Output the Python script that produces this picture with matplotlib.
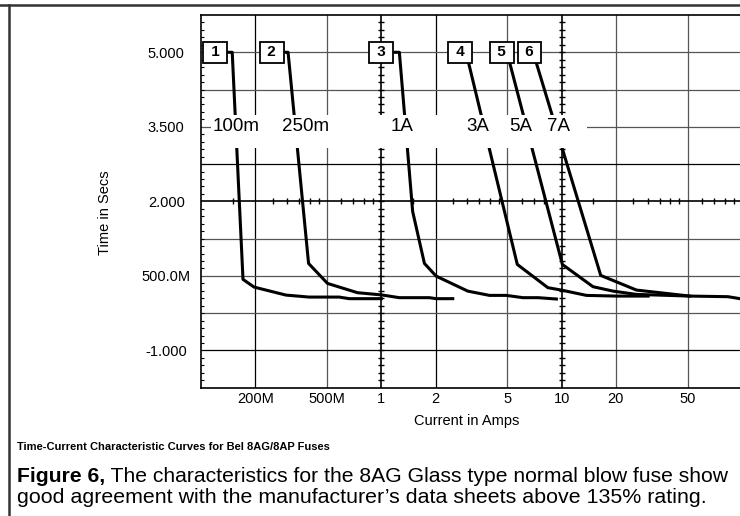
import matplotlib.pyplot as plt
import numpy as np
from matplotlib.lines import Line2D
from matplotlib.patches import Rectangle

plt.rcParams['font.family'] = ['Liberation Sans', 'DejaVu Sans']

# curve data (current in A, time in s)
fuse1_x = [0.141, 0.149, 0.171, 0.197, 0.296, 0.398, 0.584, 0.664, 1.0]
fuse1_y = [5.0, 5.0, 0.43, 0.275, 0.114, 0.074, 0.074, 0.042, 0.042]
fuse2_x = [0.298, 0.304, 0.395, 0.503, 0.738, 1.0, 1.259, 1.848, 2.013, 2.49]
fuse2_y = [5.0, 5.0, 0.751, 0.349, 0.162, 0.118, 0.062, 0.062, 0.042, 0.042]
fuse3_x = [1.196, 1.259, 1.492, 1.734, 2.013, 3.016, 3.98, 4.93, 6.10, 7.4, 9.35]
fuse3_y = [5.0, 5.0, 1.797, 0.751, 0.496, 0.194, 0.108, 0.108, 0.062, 0.062, 0.035]
fuse4_x = [2.95, 5.675, 8.39, 9.96, 13.72, 20.13, 30.16]
fuse4_y = [5.0, 0.731, 0.263, 0.215, 0.108, 0.094, 0.094]
fuse5_x = [4.975, 10.09, 14.92, 19.28, 26.0, 51.4]
fuse5_y = [5.0, 0.731, 0.283, 0.194, 0.128, 0.094]
fuse6_x = [6.946, 16.47, 26.0, 51.4, 83.6, 97.5]
fuse6_y = [5.0, 0.51, 0.215, 0.094, 0.082, 0.042]

curves = [(fuse1_x, fuse1_y), (fuse2_x, fuse2_y), (fuse3_x, fuse3_y),
          (fuse4_x, fuse4_y), (fuse5_x, fuse5_y), (fuse6_x, fuse6_y)]

box_names = ['1', '2', '3', '4', '5', '6']
box_x = [0.1196, 0.247, 1.0, 2.74, 4.66, 6.64]
rating_names = ['100m', '250m', '1A', '3A', '5A', '7A']
rating_x = [0.1565, 0.378, 1.30, 3.41, 5.92, 9.59]

xticks = [0.2, 0.5, 1, 2, 5, 10, 20, 50]
xticklabels = ['200M', '500M', '1', '2', '5', '10', '20', '50']
yticks = [5.0, 3.5, 2.0, 0.5, -1.0]
yticklabels = ['5.000', '3.500', '2.000', '500.0M', '-1.000']

fig = plt.figure(figsize=(7.4, 5.16), dpi=100)
ax = fig.add_axes([0.2716, 0.2486, 0.7284, 0.7223])
ax.set_xscale('log')
ax.set_xlim(0.1, 97.5)
ax.set_ylim(-1.75, 5.75)

# grid
for x in xticks:
    if x in (1, 10):
        continue
    c = 'black' if x in (0.2, 2) else '#555555'
    ax.axvline(x, color=c, lw=0.9, zorder=1)
for y in np.arange(-1.0, 5.01, 0.75):
    if abs(y - 2.0) < 1e-6:
        continue
    c = 'black' if abs(y - 2.75) < 1e-6 or abs(y + 1.0) < 1e-6 else '#555555'
    ax.axhline(y, color=c, lw=0.9, zorder=1)

# crossing "axes" at x=1, x=10 and y=2 with their own ticks
ysub = np.round(5.0 - 0.15 * np.arange(-5, 50), 2)
ysub = ysub[(ysub > -1.75) & (ysub < 5.75)]
xsub = np.array([m * d for d in (0.1, 1, 10) for m in (1.5, 2.5, 3, 3.5, 4, 4.5, 6, 7, 8, 9)])
xsub = xsub[xsub < 97.5]
for xv in (1, 10):
    ax.axvline(xv, color='black', lw=1.2, zorder=2)
    ax.plot(np.full(len(ysub), xv), ysub, ls='none', marker='_', ms=4.5, mew=1.0, color='black', zorder=2)
ax.axhline(2.0, color='black', lw=1.2, zorder=2)
ax.plot(xsub, np.full(len(xsub), 2.0), ls='none', marker='|', ms=4.5, mew=1.0, color='black', zorder=2)

for cx, cy in curves:
    ax.plot(cx, cy, color='black', lw=2.2, zorder=3)

# white band carrying the ratings
band_x0, band_x1, band_y0, band_y1 = 0.1136, 13.77, 3.084, 3.747
ax.add_patch(Rectangle((band_x0, band_y0), band_x1 - band_x0, band_y1 - band_y0,
                       facecolor='white', edgecolor='none', zorder=4))
for name, xr in zip(rating_names, rating_x):
    ax.text(xr, 3.5, name, ha='center', va='center', fontsize=13.5, zorder=5)

for name, xb in zip(box_names, box_x):
    ax.text(xb, 5.0, ' ' + name + ' ', ha='center', va='center', fontsize=11,
            fontweight='bold', zorder=6,
            bbox=dict(boxstyle='square,pad=0.22', facecolor='white', edgecolor='black', lw=1.3))

ax.set_xticks(xticks, xticklabels, fontsize=10.5)
ax.tick_params(axis='x', which='both', length=0, pad=3)
ax.set_yticks(yticks, yticklabels, fontsize=10.5)
ax.set_yticks(ysub, minor=True)
ax.tick_params(axis='y', which='major', length=0, pad=25)
ax.tick_params(axis='y', which='minor', direction='in', length=2.5, width=0.8)
for lab in ax.get_yticklabels():
    lab.set_horizontalalignment('center')

ax.spines['right'].set_visible(False)
for s in ('left', 'top', 'bottom'):
    ax.spines[s].set_linewidth(1.2)

ax.set_xlabel('Current in Amps', fontsize=10.5)
ax.xaxis.set_label_coords(0.493, -0.07)
ax.set_ylabel('Time in Secs', fontsize=10.5)
ax.yaxis.set_label_coords(-0.165, 0.47)

# page frame
fig.add_artist(Line2D([0, 1], [1 - 5.3 / 516] * 2, color='#333333', lw=1.8))
fig.add_artist(Line2D([8.7 / 740] * 2, [0, 1 - 5.3 / 516], color='#333333', lw=1.8))

fig.text(17 / 740, 1 - 447 / 516, 'Time-Current Characteristic Curves for Bel 8AG/8AP Fuses',
         fontsize=8, fontweight='bold', va='center')
t1 = fig.text(17 / 740, 1 - 485.5 / 516, 'Figure 6,', fontsize=15.2, fontweight='bold', va='bottom')
ax.annotate(' The characteristics for the 8AG Glass type normal blow fuse show',
            xy=(1, 0), xycoords=t1, va='bottom', ha='left', fontsize=15.2, annotation_clip=False)
fig.text(17 / 740, 1 - 507 / 516, 'good agreement with the manufacturer\u2019s data sheets above 135% rating.',
         fontsize=15.4, va='bottom')

fig.savefig('out.png', dpi=100)
